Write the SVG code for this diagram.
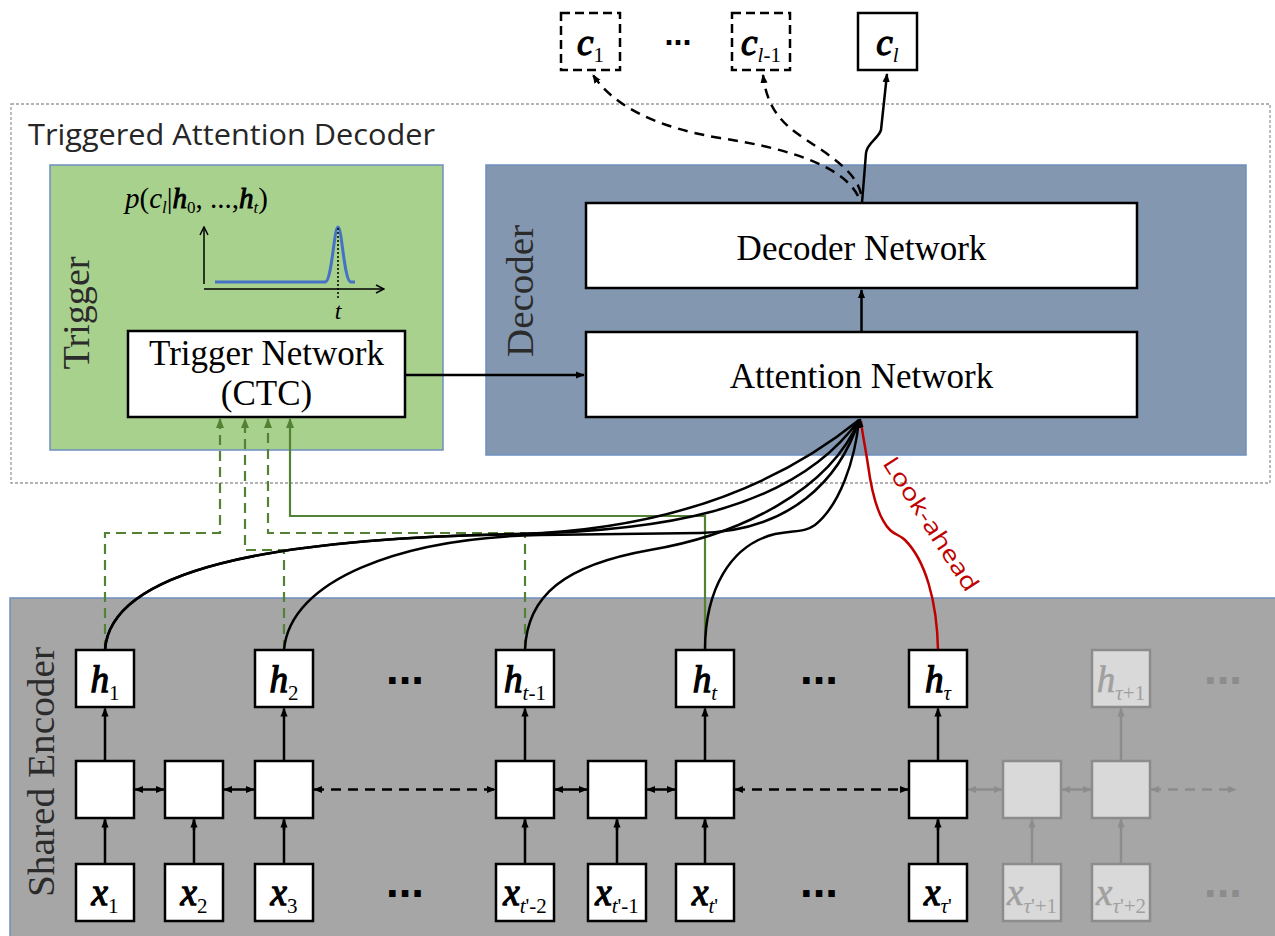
<svg xmlns="http://www.w3.org/2000/svg" width="1275" height="936" viewBox="0 0 1275 936">
<style>
.box{fill:#fff;stroke:#000;stroke-width:2.5}
.dbox{fill:#fff;stroke:#000;stroke-width:2.5;stroke-dasharray:9 5}
.fbox{fill:#d9d9d9;stroke:#8c8c8c;stroke-width:2.5}
.cont{stroke:#6d8fbf;stroke-width:1.5}
.serif{font-family:"Liberation Serif","Times New Roman",serif}
.sans{font-family:"Open Sans","Liberation Sans",Arial,sans-serif}
.sym{font-family:"Liberation Serif","Times New Roman",serif;font-size:37px;text-anchor:middle}
.bi{font-style:italic;stroke:#000;stroke-width:1.3}
.bif{font-style:italic;stroke:#a0a0a0;stroke-width:0.6}
.bis{font-style:italic;stroke:#000;stroke-width:1}
.it{font-style:italic;stroke:none}
.sub{font-size:21px;stroke:none}
.lbl{font-family:"Liberation Serif","Times New Roman",serif;font-size:35px;text-anchor:middle;fill:#000}
.rot{font-family:"Liberation Serif","Times New Roman",serif;font-size:38px;text-anchor:middle;fill:#2b2b2b}
.dots{font-family:"Liberation Sans",Arial,sans-serif;font-weight:bold;text-anchor:middle}
.k{fill:none;stroke:#000;stroke-width:2.5}
.kd{fill:none;stroke:#000;stroke-width:2.5;stroke-dasharray:10 7}
.g{fill:none;stroke:#8c8c8c;stroke-width:2.5}
.gd{fill:none;stroke:#8c8c8c;stroke-width:2.5;stroke-dasharray:10 7}
.gr{fill:none;stroke:#548235;stroke-width:2.2}
.grd{fill:none;stroke:#548235;stroke-width:2.2;stroke-dasharray:10 6}
.faded{fill:#a0a0a0}
</style>
<defs>
<marker id="ah" viewBox="0 0 10 10" refX="9" refY="5" markerWidth="9" markerHeight="9" markerUnits="userSpaceOnUse" orient="auto-start-reverse"><path d="M0,1 L10,5 L0,9 z" fill="#000"/></marker>
<marker id="ahg" viewBox="0 0 10 10" refX="9" refY="5" markerWidth="9" markerHeight="9" markerUnits="userSpaceOnUse" orient="auto-start-reverse"><path d="M0,1 L10,5 L0,9 z" fill="#8c8c8c"/></marker>
<marker id="ahgr" viewBox="0 0 10 10" refX="9" refY="5" markerWidth="10" markerHeight="10" markerUnits="userSpaceOnUse" orient="auto-start-reverse"><path d="M0,1 L10,5 L0,9 z" fill="#548235"/></marker>
<marker id="aho" viewBox="0 0 10 10" refX="9" refY="5" markerWidth="10" markerHeight="10" markerUnits="userSpaceOnUse" orient="auto"><path d="M1,1 L9,5 L1,9" fill="none" stroke="#000" stroke-width="1.5"/></marker>
</defs>

<!-- containers -->
<g id="triggered-attention-decoder">
<rect x="11" y="104" width="1259" height="379" fill="none" stroke="#9a9a9a" stroke-width="1.3" stroke-dasharray="3 2"/>
<text class="sans" x="28" y="145" font-size="30" fill="#262626" textLength="407" lengthAdjust="spacingAndGlyphs">Triggered Attention Decoder</text>
</g>
<g id="trigger">
<rect class="cont" x="50" y="165" width="393" height="285" fill="#a9d18e"/>
<text class="rot" transform="translate(89,313) rotate(-90)" textLength="113" lengthAdjust="spacingAndGlyphs">Trigger</text>
<text class="serif" x="125" y="208" font-size="29"><tspan class="it">p</tspan>(<tspan class="it">c</tspan><tspan class="it" font-size="17" dy="5">l</tspan><tspan dy="-5">|</tspan><tspan class="bis">h</tspan><tspan font-size="17" dy="5">0</tspan><tspan dy="-5">, ...,</tspan><tspan class="bis">h</tspan><tspan class="it" font-size="17" dy="5">t</tspan><tspan dy="-5">)</tspan></text>
<line x1="204" y1="284" x2="204" y2="227" stroke="#000" stroke-width="1.5" marker-end="url(#aho)"/>
<line x1="204" y1="289" x2="384" y2="289" stroke="#000" stroke-width="1.5" marker-end="url(#aho)"/>
<path d="M215,282 L325,282 C332,282 334,227 338,227 C342,227 344,282 351,282 L355,282" fill="none" stroke="#4472c4" stroke-width="3"/>
<line x1="338" y1="228" x2="338" y2="298" stroke="#000" stroke-width="1.5" stroke-dasharray="2 2"/>
<text class="serif it" x="338" y="319" font-size="24" text-anchor="middle">t</text>
</g>
<g id="decoder">
<rect class="cont" x="486" y="165" width="760" height="290" fill="#8497b0"/>
<text class="rot" transform="translate(533,291) rotate(-90)" textLength="132" lengthAdjust="spacingAndGlyphs">Decoder</text>
</g>
<g id="shared-encoder">
<rect class="cont" x="10" y="598" width="1270" height="345" fill="#a6a6a6"/>
<text class="rot" transform="translate(54,772) rotate(-90)" fill="#333" textLength="250" lengthAdjust="spacingAndGlyphs">Shared Encoder</text>
</g>

<!-- connectors -->
<g id="connectors">
<path class="kd" d="M858,196 C845,170 800,150 720,138 C660,128 615,108 593,75" marker-end="url(#ah)"/>
<path class="kd" d="M861,194 C855,165 810,145 790,128 C775,115 766,100 763,75" marker-end="url(#ah)"/>
<path class="k" d="M862,203 L866,153 C867,143 878,139 881,130 L887,74" marker-end="url(#ah)"/>
<line class="k" x1="861.5" y1="332" x2="861.5" y2="290" marker-end="url(#ah)"/>
<line class="k" x1="406" y1="375" x2="584" y2="375" marker-end="url(#ah)"/>
<path class="grd" d="M105,650 L105,533 L220,533 L220,419" marker-end="url(#ahgr)"/>
<path class="grd" d="M284,650 L284,550 L245,550 L245,419" marker-end="url(#ahgr)"/>
<path class="grd" d="M525,650 L525,533 L268,533 L268,419" marker-end="url(#ahgr)"/>
<path class="gr" d="M705,650 L705,516 L290,516 L290,419" marker-end="url(#ahgr)"/>
<path class="k" d="M105,650 C110,570 270,538 520,534 C650,531 790,515 859,420"/>
<path class="k" d="M105,650 C110,570 270,538 520,534 C640,530 760,500 859,420"/>
<path class="k" d="M284,650 C290,580 400,538 540,535 L700,533 C790,531 840,480 859,420"/>
<path class="k" d="M525,650 C527,595 565,565 650,550 C740,535 830,490 859,420"/>
<path class="k" d="M705,650 C705,590 730,545 775,534 C798,530 805,532 815,525 C840,505 855,460 859,420"/>
<path fill="none" stroke="#c00000" stroke-width="2.5" d="M938,650 C937,600 925,560 905,540 C900,535 895,535 890,530 C878,518 872,495 868,465 C865,445 862,432 861,421"/>
<path class="k" d="M860,428 L860,419" marker-end="url(#ah)"/>
<text class="sans" transform="translate(931,524) rotate(57)" font-size="23" fill="#c00000" text-anchor="middle" dy="8" textLength="155" lengthAdjust="spacingAndGlyphs">Look-ahead</text>
<path class="k" d="M105,864 V819.5 M194,864 V819.5 M284,864 V819.5 M525,864 V819.5 M617,864 V819.5 M705,864 V819.5 M938,864 V819.5"/>
<g marker-end="url(#ah)" class="k">
<line x1="105" y1="830" x2="105" y2="819.5"/><line x1="194" y1="830" x2="194" y2="819.5"/><line x1="284" y1="830" x2="284" y2="819.5"/><line x1="525" y1="830" x2="525" y2="819.5"/><line x1="617" y1="830" x2="617" y2="819.5"/><line x1="705" y1="830" x2="705" y2="819.5"/><line x1="938" y1="830" x2="938" y2="819.5"/>
<line x1="105" y1="761" x2="105" y2="708.5"/><line x1="284" y1="761" x2="284" y2="708.5"/><line x1="525" y1="761" x2="525" y2="708.5"/><line x1="705" y1="761" x2="705" y2="708.5"/><line x1="938" y1="761" x2="938" y2="708.5"/>
</g>
<g marker-end="url(#ahg)" class="g">
<line x1="1032" y1="864" x2="1032" y2="819.5"/><line x1="1121" y1="864" x2="1121" y2="819.5"/><line x1="1121" y1="761" x2="1121" y2="708.5"/>
</g>
<g marker-start="url(#ah)" marker-end="url(#ah)">
<line class="k" x1="135" y1="789.5" x2="164" y2="789.5"/>
<line class="k" x1="224" y1="789.5" x2="254" y2="789.5"/>
<line class="kd" x1="314" y1="789.5" x2="495" y2="789.5"/>
<line class="k" x1="555" y1="789.5" x2="587" y2="789.5"/>
<line class="k" x1="647" y1="789.5" x2="675" y2="789.5"/>
<line class="kd" x1="735" y1="789.5" x2="908" y2="789.5"/>
</g>
<g marker-start="url(#ahg)" marker-end="url(#ahg)">
<line class="g" x1="968" y1="789.5" x2="1002" y2="789.5"/>
<line class="g" x1="1062" y1="789.5" x2="1091" y2="789.5"/>
<line class="gd" x1="1151" y1="789.5" x2="1236" y2="789.5"/>
</g>
</g>

<!-- output nodes -->
<g id="c1"><rect class="dbox" x="561" y="13" width="59" height="57"/><text class="sym" x="590.5" y="55"><tspan class="bi">c</tspan><tspan class="sub" dy="7">1</tspan></text></g>
<g id="c-dots"><text class="dots" x="678" y="45" font-size="34" textLength="27" lengthAdjust="spacingAndGlyphs">...</text></g>
<g id="c-l-1"><rect class="dbox" x="732" y="13" width="58" height="57"/><text class="sym" x="761" y="55"><tspan class="bi">c</tspan><tspan class="sub" dy="7"><tspan class="it">l</tspan>-1</tspan></text></g>
<g id="c-l"><rect class="box" x="858" y="13" width="59" height="57"/><text class="sym" x="887.5" y="55"><tspan class="bi">c</tspan><tspan class="sub it" dy="7">l</tspan></text></g>

<g id="trigger-network"><rect class="box" x="128" y="331" width="277" height="86"/><text class="lbl" x="266.5" y="365">Trigger Network</text><text class="lbl" x="266.5" y="405">(CTC)</text></g>
<g id="decoder-network"><rect class="box" x="586" y="203" width="551" height="85"/><text class="lbl" x="861.5" y="260">Decoder Network</text></g>
<g id="attention-network"><rect class="box" x="586" y="332" width="551" height="85"/><text class="lbl" x="861.5" y="388">Attention Network</text></g>

<!-- h row -->
<g id="h1"><rect class="box" x="76" y="650" width="58" height="57"/><text class="sym" x="105" y="692"><tspan class="bi">h</tspan><tspan class="sub" dy="8">1</tspan></text></g>
<g id="h2"><rect class="box" x="255" y="650" width="58" height="57"/><text class="sym" x="284" y="692"><tspan class="bi">h</tspan><tspan class="sub" dy="8">2</tspan></text></g>
<g id="h-dots1"><text class="dots" x="405" y="684" font-size="46" textLength="38" lengthAdjust="spacingAndGlyphs">...</text></g>
<g id="h-t-1"><rect class="box" x="496" y="650" width="58" height="57"/><text class="sym" x="525" y="692"><tspan class="bi">h</tspan><tspan class="sub" dy="8"><tspan class="it">t</tspan>-1</tspan></text></g>
<g id="h-t"><rect class="box" x="676" y="650" width="58" height="57"/><text class="sym" x="705" y="692"><tspan class="bi">h</tspan><tspan class="sub it" dy="8">t</tspan></text></g>
<g id="h-dots2"><text class="dots" x="819" y="684" font-size="46" textLength="38" lengthAdjust="spacingAndGlyphs">...</text></g>
<g id="h-tau"><rect class="box" x="909" y="650" width="58" height="57"/><text class="sym" x="938" y="692"><tspan class="bi">h</tspan><tspan class="sub it" dy="8">τ</tspan></text></g>
<g id="h-tau1"><rect class="fbox" x="1092" y="650" width="58" height="57"/><text class="sym faded" x="1121" y="692"><tspan class="bif">h</tspan><tspan class="sub" dy="8"><tspan class="it">τ</tspan>+1</tspan></text></g>
<g id="h-dots3"><text class="dots" x="1223" y="684" font-size="46" fill="#8c8c8c" textLength="38" lengthAdjust="spacingAndGlyphs">...</text></g>

<g id="r1"><rect class="box" x="76" y="761" width="58" height="57"/></g>
<g id="r2"><rect class="box" x="165" y="761" width="58" height="57"/></g>
<g id="r3"><rect class="box" x="255" y="761" width="58" height="57"/></g>
<g id="r4"><rect class="box" x="496" y="761" width="58" height="57"/></g>
<g id="r5"><rect class="box" x="588" y="761" width="58" height="57"/></g>
<g id="r6"><rect class="box" x="676" y="761" width="58" height="57"/></g>
<g id="r7"><rect class="box" x="909" y="761" width="58" height="57"/></g>
<g id="r8"><rect class="fbox" x="1003" y="761" width="58" height="57"/></g>
<g id="r9"><rect class="fbox" x="1092" y="761" width="58" height="57"/></g>

<!-- x row -->
<g id="x1"><rect class="box" x="76" y="864" width="58" height="57"/><text class="sym" x="105" y="905"><tspan class="bi">x</tspan><tspan class="sub" dy="8">1</tspan></text></g>
<g id="x2"><rect class="box" x="165" y="864" width="58" height="57"/><text class="sym" x="194" y="905"><tspan class="bi">x</tspan><tspan class="sub" dy="8">2</tspan></text></g>
<g id="x3"><rect class="box" x="255" y="864" width="58" height="57"/><text class="sym" x="284" y="905"><tspan class="bi">x</tspan><tspan class="sub" dy="8">3</tspan></text></g>
<g id="x-dots1"><text class="dots" x="405" y="897" font-size="46" textLength="38" lengthAdjust="spacingAndGlyphs">...</text></g>
<g id="x-t-2"><rect class="box" x="496" y="864" width="58" height="57"/><text class="sym" x="525" y="905"><tspan class="bi">x</tspan><tspan class="sub" font-size="19" dy="8"><tspan class="it">t</tspan>'-2</tspan></text></g>
<g id="x-t-1"><rect class="box" x="588" y="864" width="58" height="57"/><text class="sym" x="617" y="905"><tspan class="bi">x</tspan><tspan class="sub" font-size="19" dy="8"><tspan class="it">t</tspan>'-1</tspan></text></g>
<g id="x-t"><rect class="box" x="676" y="864" width="58" height="57"/><text class="sym" x="705" y="905"><tspan class="bi">x</tspan><tspan class="sub" dy="8"><tspan class="it">t</tspan>'</tspan></text></g>
<g id="x-dots2"><text class="dots" x="819" y="897" font-size="46" textLength="38" lengthAdjust="spacingAndGlyphs">...</text></g>
<g id="x-tau"><rect class="box" x="909" y="864" width="58" height="57"/><text class="sym" x="938" y="905"><tspan class="bi">x</tspan><tspan class="sub" dy="8"><tspan class="it">τ</tspan>'</tspan></text></g>
<g id="x-tau1"><rect class="fbox" x="1003" y="864" width="58" height="57"/><text class="sym faded" x="1032" y="905"><tspan class="bif">x</tspan><tspan class="sub" font-size="19" dy="8"><tspan class="it">τ</tspan>'+1</tspan></text></g>
<g id="x-tau2"><rect class="fbox" x="1092" y="864" width="58" height="57"/><text class="sym faded" x="1121" y="905"><tspan class="bif">x</tspan><tspan class="sub" font-size="19" dy="8"><tspan class="it">τ</tspan>'+2</tspan></text></g>
<g id="x-dots3"><text class="dots" x="1223" y="897" font-size="46" fill="#8c8c8c" textLength="38" lengthAdjust="spacingAndGlyphs">...</text></g>
</svg>
